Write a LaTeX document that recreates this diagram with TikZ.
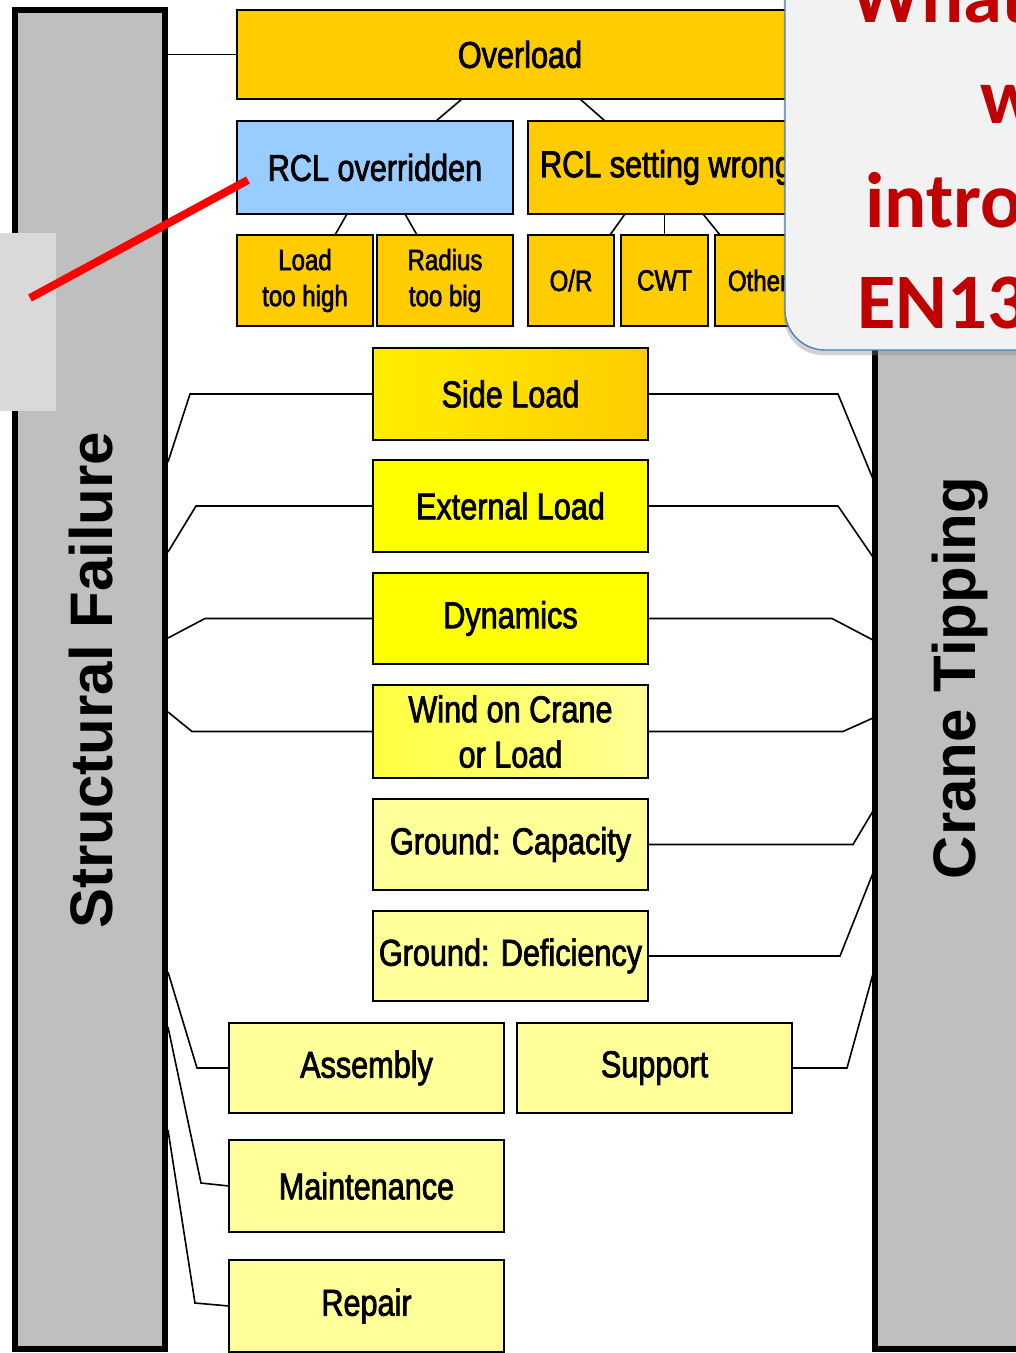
\documentclass[tikz,border=0pt]{standalone}
\usepackage{fontspec}
\setmainfont{Liberation Sans}
\newfontfamily\nar[FakeStretch=0.82,FakeBold=2]{Liberation Sans}
\newfontfamily\calb{Carlito}
\usetikzlibrary{shadows,calc}
\definecolor{gold}{HTML}{FFCC00}
\definecolor{lblue}{HTML}{99CCFF}
\definecolor{yel}{HTML}{FFFF00}
\definecolor{pale}{HTML}{FFFF99}
\definecolor{bargray}{HTML}{BFBFBF}
\definecolor{patch}{HTML}{D9D9D9}
\definecolor{callfill}{HTML}{F2F2F2}
\definecolor{callline}{HTML}{4A7EBB}
\definecolor{callred}{HTML}{C00000}
\definecolor{sideA}{HTML}{FFEE00}
\definecolor{sideM}{HTML}{FFF200}
\definecolor{windA}{HTML}{FFFF40}
\begin{document}
\begin{tikzpicture}[x=0.75pt,y=-0.75pt,
  bx/.style 2 args={draw=black,line width=1.5pt,inner sep=0pt,outer sep=0pt,
    minimum width=#1*0.75pt,minimum height=#2*0.75pt,
    font=\nar\fontsize{28}{34}\selectfont,align=center},
  sm/.style={font=\nar\fontsize{22}{27}\selectfont},
  bar/.style 2 args={draw=black,line width=4.5pt,fill=bargray,inner sep=0pt,outer sep=0pt,
    minimum width=#1*0.75pt,minimum height=#2*0.75pt},
  bartext/.style={font=\bfseries\fontsize{45}{54}\selectfont,inner sep=0pt,rotate=90,anchor=base},
  conn/.style={draw=black,line width=1.2pt},
  redline/.style={draw=red,line width=6pt},
  calltext/.style={font=\calb\bfseries\fontsize{59}{70}\selectfont,text=callred,inner sep=0pt,anchor=base west}
]
\useasboundingbox (0,0) rectangle (1016,1353);
\clip (0,0) rectangle (1016,1353);
\fill[white] (0,0) rectangle (1016,1353);

% side bars
\node[bar={150}{1339}] (sf) at (90,679.5) {};
\node[bar={160}{1049}] (ct) at (955,824.5) {};
\node[bartext] (sft) at (112,680) {Structural Failure};
\node[bartext] (ctt) at (975,678) {Crane Tipping};
\node[fill=patch,inner sep=0pt,outer sep=0pt,minimum width=56*0.75pt,minimum height=178*0.75pt] (patch) at (28,322) {};

% top tree
\node[bx={566}{89},fill=gold] (ovl) at (520,54.5) {Overload};
\node[bx={276}{93},fill=lblue] (rclo) at (375,167.5) {RCL overridden};
\node[bx={276}{93},fill=gold] (rcls) at (666,167.5) {RCL setting wrong};
\node[bx={136}{91},fill=gold,sm] (load) at (305,280.5) {Load\\too high};
\node[bx={136}{91},fill=gold,sm] (rad) at (445,280.5) {Radius\\too big};
\node[bx={86}{91},fill=gold,sm] (or) at (571,280.5) {O/R};
\node[bx={87}{91},fill=gold,sm] (cwt) at (664.5,280.5) {CWT};
\node[bx={86}{91},fill=gold,sm] (oth) at (758,280.5) {Other};

% middle column
\node[bx={275}{92},left color=sideA,middle color=sideM,right color=gold] (side) at (510.5,394) {Side Load};
\node[bx={275}{92},fill=yel] (ext) at (510.5,506) {External Load};
\node[bx={275}{91},fill=yel] (dyn) at (510.5,618.5) {Dynamics};
\node[bx={275}{93},left color=windA,middle color=yel,right color=pale] (wind) at (510.5,731.5) {Wind on Crane\\or Load};
\node[bx={275}{91},fill=pale] (gcap) at (510.5,844.5) {Ground: Capacity};
\node[bx={275}{90},fill=pale] (gdef) at (510.5,956) {Ground: Deficiency};
\node[bx={275}{90},fill=pale] (asm) at (366.5,1068) {Assembly};
\node[bx={275}{90},fill=pale] (sup) at (654.5,1068) {Support};
\node[bx={275}{92},fill=pale] (mnt) at (366.5,1186) {Maintenance};
\node[bx={275}{92},fill=pale] (rep) at (366.5,1306) {Repair};

% attach points on the bars
\coordinate (L1) at (168,462);
\coordinate (L2) at (168,552);
\coordinate (L3) at (168,638);
\coordinate (L4) at (168,712);
\coordinate (L5) at (168,972);
\coordinate (L6) at (168,1027);
\coordinate (L7) at (168,1130);
\coordinate (R1) at (873,479);
\coordinate (R2) at (873,557);
\coordinate (R3) at (873,640);
\coordinate (R4) at (873,718);
\coordinate (R5) at (873,811);
\coordinate (R6) at (873,873);
\coordinate (R7) at (873,974);

% tree connectors
\draw[conn] (ovl.west) -- (sf.east |- ovl.west);
\draw[conn] ([xshift=-43.5pt]ovl.south) -- ([xshift=45.75pt]rclo.north);
\draw[conn] ([xshift=45pt]ovl.south) -- ([xshift=-45.75pt]rcls.north);
\draw[conn] ([xshift=-21pt]rclo.south) -- ([xshift=22.5pt]load.north);
\draw[conn] ([xshift=22.5pt]rclo.south) -- ([xshift=-21pt]rad.north);
\draw[conn] ([xshift=-30.75pt]rcls.south) -- ([xshift=29.25pt]or.north);
\draw[conn] (cwt.north) -- (cwt.north |- rcls.south);
\draw[conn] ([xshift=27.75pt]rcls.south) -- ([xshift=-28.5pt]oth.north);

% left connectors
\draw[conn] (side.west) -- ++(-183,0) -- (L1);
\draw[conn] (ext.west) -- ++(-177,0) -- (L2);
\draw[conn] (dyn.west) -- ++(-168,0) -- (L3);
\draw[conn] (wind.west) -- ++(-181,0) -- (L4);
\draw[conn] (asm.west) -- ++(-32,0) -- (L5);
\draw[conn] (mnt.west) -- ++(-28,-3) -- (L6);
\draw[conn] (rep.west) -- ++(-34,-3) -- (L7);

% right connectors
\draw[conn] (side.east) -- ++(190,0) -- (R1);
\draw[conn] (ext.east) -- ++(190,0) -- (R2);
\draw[conn] (dyn.east) -- ++(184,0) -- (R3);
\draw[conn] (wind.east) -- ++(195,0) -- (R4);
\draw[conn] (gcap.east) -- ++(205,0) -- (R5);
\draw[conn] (gdef.east) -- ++(192,0) -- (R6);
\draw[conn] (sup.east) -- ++(55,0) -- (R7);

% red pointer
\coordinate (redend) at (30,298);
\draw[redline] (redend) -- ([xshift=8.25pt,yshift=-9.4pt]rclo.west);

% callout
\node[draw=callline,line width=1pt,fill=callfill,rounded corners=30pt,
  drop shadow={opacity=0.35,shadow xshift=-1pt,shadow yshift=-4pt},
  inner sep=0pt,outer sep=0pt,minimum width=300*0.75pt,minimum height=420*0.75pt] (call) at (935,140) {};
\node[calltext] (c1) at (850,22) {What};
\node[calltext] (c2) at (980,123) {w};
\node[calltext] (c3) at (865,227) {intro};
\node[calltext] (c4) at (857,328) {EN13};
\end{tikzpicture}
\end{document}
